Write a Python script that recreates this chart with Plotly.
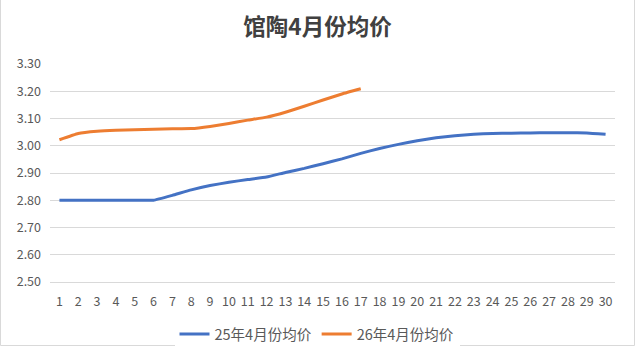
import plotly.graph_objects as go

days = list(range(1, 31))
days_26 = list(range(1, 18))
price_25 = [2.80, 2.80, 2.80, 2.80, 2.80, 2.80, 2.818, 2.838, 2.854, 2.866, 2.876, 2.885,
            2.902, 2.917, 2.934, 2.952, 2.972, 2.990, 3.005, 3.018, 3.029, 3.037, 3.042,
            3.045, 3.046, 3.047, 3.048, 3.048, 3.047, 3.042]
price_26 = [3.022, 3.045, 3.053, 3.057, 3.059, 3.061, 3.062, 3.063, 3.071, 3.082,
            3.094, 3.105, 3.123, 3.145, 3.168, 3.190, 3.209]
y_ticks = [2.5, 2.6, 2.7, 2.8, 2.9, 3.0, 3.1, 3.2, 3.3]

FONT = "Noto Sans CJK SC"
fig = go.Figure()
fig.add_trace(go.Scatter(x=days, y=price_25, mode="lines", name="25年4月份均价",
                         line=dict(color="#4472C4", width=3, shape="spline", smoothing=0.35)))
fig.add_trace(go.Scatter(x=days_26, y=price_26, mode="lines", name="26年4月份均价",
                         line=dict(color="#ED7D31", width=3, shape="spline", smoothing=0.35)))

L, R, T, B = 50, 20, 64, 80
W, H = 635, 362
pw, ph = W - L - R, H - T - B
fig.update_layout(
    width=W, height=H,
    margin=dict(l=L, r=R, t=T, b=B, autoexpand=False),
    paper_bgcolor="white", plot_bgcolor="white",
    font=dict(family=FONT, color="#595959", size=12),
    title=dict(text="<b>馆陶4月份均价</b>", x=0.5, xanchor="center", y=1 - 27 / H, yanchor="middle",
               font=dict(family=FONT, size=22.5, color="#404040")),
    xaxis=dict(range=[0.5, 30.5], tickmode="array", tickvals=days, ticktext=[str(d) for d in days],
               showgrid=False, showline=True, linecolor="#d9d9d9", linewidth=1, ticks="",
               zeroline=False, fixedrange=True, tickfont=dict(size=12.5), ticklabelstandoff=8),
    yaxis=dict(range=[2.5, 3.3], tickmode="array", tickvals=y_ticks,
               ticktext=[f"{v:.2f}" for v in y_ticks], showgrid=True, gridcolor="#d9d9d9",
               gridwidth=1, zeroline=False, ticks="", showline=False, tickfont=dict(size=12.5),
               ticklabelstandoff=8),
    legend=dict(orientation="h", x=(317 - L) / pw, xanchor="center", y=-52 / ph, yanchor="middle",
                font=dict(size=14.5, color="#595959"), itemwidth=30),
    showlegend=True,
)
fig.add_shape(type="rect", xref="paper", yref="paper",
              x0=(0.5 - L) / pw, x1=(W - 0.5 - L) / pw,
              y0=(ph + B - (H - 0.5)) / ph, y1=(ph + B - 0.5) / ph,
              line=dict(color="#d9d9d9", width=1), layer="below")
fig.write_html("out.html", config={"displayModeBar": False},
               post_script="document.body.style.margin='0';")
